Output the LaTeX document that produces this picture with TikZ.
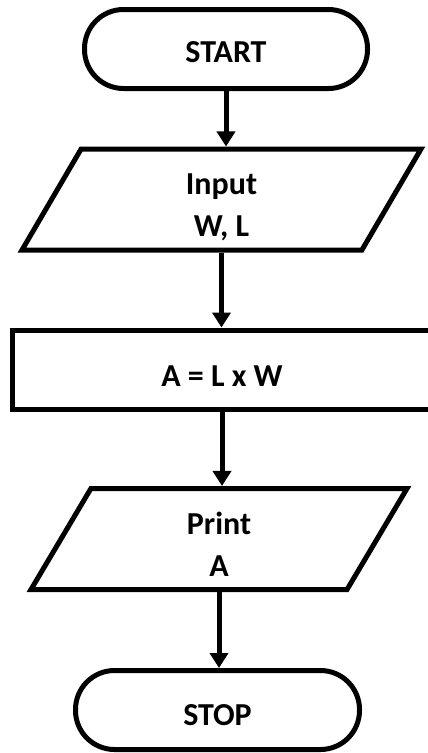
\documentclass[tikz,border=0pt]{standalone}
\usepackage{fontspec}
\setmainfont{Carlito}
\usetikzlibrary{arrows.meta}
\usetikzlibrary{positioning}
\usetikzlibrary{shapes.geometric}

\tikzset{
  box/.style={draw, line width=5pt, inner sep=0pt,
      font=\bfseries\fontsize{32}{42}\selectfont, align=center},
  term/.style={box, rectangle, rounded corners=39pt,
      minimum width=283pt, minimum height=79pt,
      text height=27pt, text depth=0pt},
  proc/.style={box, rectangle, minimum width=420pt, minimum height=79pt,
      text height=33pt, text depth=0pt},
  io/.style={box, trapezium, trapezium stretches body,
      trapezium left angle=51, trapezium right angle=129,
      minimum height=101pt, text depth=0pt},
  flow/.style={-{Triangle[width=18pt,length=15pt]}, line width=5pt}
}

\begin{document}
\begin{tikzpicture}[x=1pt,y=1pt]
  \useasboundingbox (0,0) rectangle (428,-753);

  \node[term] (start) at (226,-49) {START};
  \node[io, minimum width=399pt, text height=73pt]
      (in) at (221.5,-199.5) {Input\\W, L};
  \node[proc] (area) at (222,-369.5) {A = L x W};
  \node[io, minimum width=376pt, text height=74pt]
      (out) at (219,-539) {Print\\A};
  \node[term, minimum width=284pt, text height=30pt]
      (stop) at (217.5,-710) {STOP};

  \draw[flow] (start) -- (start |- in.north);
  \draw[flow] (in)    -- (in |- area.north);
  \draw[flow] (area)  -- (area |- out.north);
  \draw[flow] (out)   -- (out |- stop.north);
\end{tikzpicture}
\end{document}
